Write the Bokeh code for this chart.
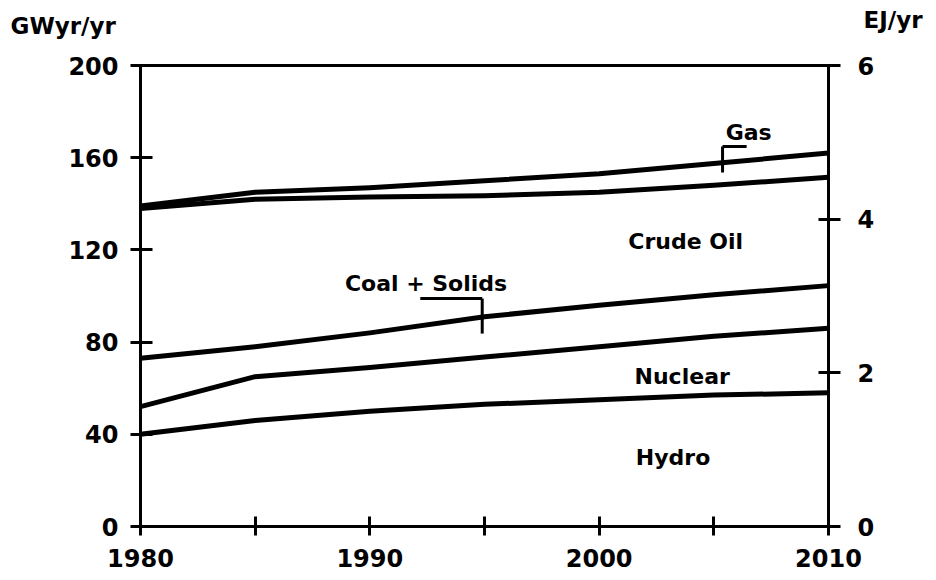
import numpy as np
from bokeh.plotting import figure
from bokeh.layouts import column
from bokeh.models import Range1d, LinearAxis, FixedTicker, Label
from bokeh.core.properties import value
from bokeh.embed import file_html
from bokeh.resources import INLINE

# ---- data (GWyr/yr, stacked from the bottom) ----
years = [1980, 1985, 1990, 1995, 2000, 2005, 2010]
hydro = [40, 46, 50, 53, 55, 57, 58]
nuclear = [12, 19, 19, 20.5, 23, 25.5, 28]
coal_solids = [21, 13, 15, 17.5, 18, 18, 18.5]
crude_oil = [65, 64, 59, 52.5, 49, 47.5, 47]
gas = [1, 3, 4, 6.5, 8, 9.5, 10.5]
series_names = ["Hydro", "Nuclear", "Coal + Solids", "Crude Oil", "Gas"]

left_ticks = [0, 40, 80, 120, 160, 200]
right_ticks = [0, 2, 4, 6]
x_major = [1980, 1990, 2000, 2010]
x_minor = [1985, 1995, 2005]
unit_labels = ["GWyr/yr", "EJ/yr"]

FONT = "DejaVu Sans"
W = 928
HEAD_H = 56
BOTTOM = 52

# ---- header strip holding the two unit labels ----
head = figure(width=W, height=HEAD_H, output_backend="svg", toolbar_location=None,
              x_range=Range1d(0, W), y_range=Range1d(0, HEAD_H), min_border=0)
if "frame_align" in head.properties():
    head.frame_align = False
head.axis.visible = False
head.xgrid.visible = False
head.ygrid.visible = False
head.outline_line_color = None
head.text(x=[10, 863], y=[HEAD_H - 25, HEAD_H - 19], text=unit_labels, text_align="left",
          text_baseline="alphabetic", text_font=value(FONT), text_font_style="bold",
          text_font_size="23px", text_color="black")

# ---- main chart ----
p = figure(width=W, height=461 + BOTTOM + (65 - HEAD_H), output_backend="svg",
           toolbar_location=None,
           x_range=Range1d(1980, 2010), y_range=Range1d(0, 200),
           min_border_left=140, min_border_right=100,
           min_border_top=65 - HEAD_H, min_border_bottom=BOTTOM)
if "frame_align" in p.properties():
    p.frame_align = False
p.xgrid.visible = False
p.ygrid.visible = False
p.outline_line_color = "black"
p.outline_line_width = 3
p.background_fill_color = "white"
p.border_fill_color = "white"

p.extra_y_ranges = {"ej": Range1d(0, 6)}
rax = LinearAxis(y_range_name="ej", ticker=FixedTicker(ticks=right_ticks))
p.add_layout(rax, "right")

p.xaxis[0].ticker = FixedTicker(ticks=x_major, minor_ticks=x_minor)
p.yaxis[0].ticker = FixedTicker(ticks=left_ticks)

for ax in p.xaxis + p.yaxis:
    ax.axis_line_width = 3
    ax.axis_line_color = "black"
    ax.major_tick_line_width = 3
    ax.minor_tick_line_width = 3
    ax.major_tick_line_color = "black"
    ax.minor_tick_line_color = "black"
    ax.major_label_text_font = FONT
    ax.major_label_text_font_style = "bold"
    ax.major_label_text_color = "black"
    ax.major_label_text_font_size = "24px"

xa = p.xaxis[0]
xa.major_tick_in = 10
xa.major_tick_out = 9
xa.minor_tick_in = 10
xa.minor_tick_out = 9
xa.major_label_standoff = 13

la = p.yaxis[0]
la.major_tick_in = 12
la.major_tick_out = 10
la.minor_tick_line_color = None
la.major_label_standoff = 12

rax.major_tick_in = 10
rax.major_tick_out = 12
rax.minor_tick_line_color = None
rax.major_label_standoff = 17

# ---- stacked boundary lines ----
stack = np.cumsum(np.array([hydro, nuclear, coal_solids, crude_oil, gas], dtype=float), axis=0)
for row in stack:
    p.line(years, row, line_width=5, line_color="black", line_join="round", line_cap="round")

# ---- leader marks ----
p.segment(x0=[2005.38, 2005.38, 1992.2, 1994.9], y0=[164.9, 164.9, 98.9, 98.9],
          x1=[2006.43, 2005.38, 1994.9, 1994.9], y1=[164.9, 153.6, 98.9, 83.7],
          line_width=3, line_color="black")

# ---- series labels ----
label_pos = {
    "Gas": (2006.52, 170.9),
    "Crude Oil": (2003.77, 123.6),
    "Coal + Solids": (1992.45, 105.4),
    "Nuclear": (2003.62, 65.1),
    "Hydro": (2003.22, 29.9),
}
for name in series_names:
    x, y = label_pos[name]
    p.add_layout(Label(x=x, y=y, text=name, text_align="center", text_baseline="alphabetic",
                       text_font=FONT, text_font_style="bold", text_font_size="22px",
                       text_color="black"))

layout = column(head, p, spacing=0)
open("out.html", "w").write(file_html(layout, INLINE))
